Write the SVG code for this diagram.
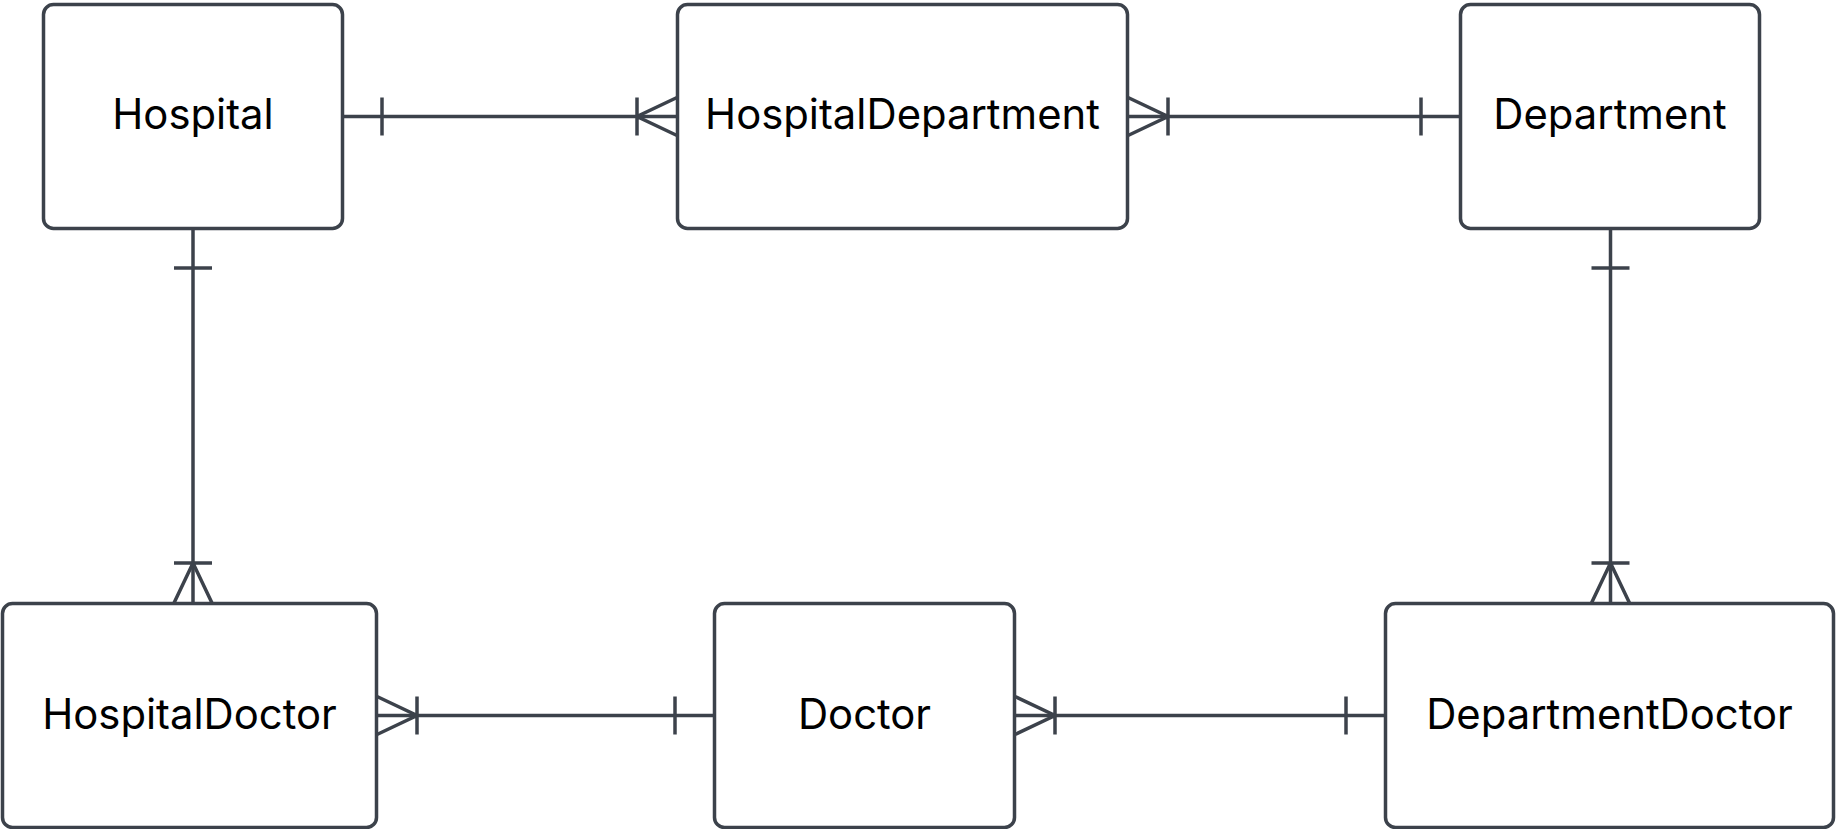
<svg xmlns="http://www.w3.org/2000/svg" width="1836" height="829" viewBox="0 0 1836 829">
  <style>
    .entity rect { fill: #ffffff; stroke: #3c424b; stroke-width: 3.5; }
    .entity text { font-family: Inter, "Noto Sans", "Liberation Sans", sans-serif; font-size: 41.8px; fill: #000000; text-anchor: middle; }
    .rel { fill: none; stroke: #3c424b; stroke-width: 3.5; marker-start: url(#one); marker-end: url(#many); }
    .rel.rev { marker-start: url(#manyStart); marker-end: url(#oneEnd); }
    .mk { fill: none; stroke: #3c424b; stroke-width: 3.5; }
  </style>
  <defs>
    <!-- exactly one: bar 39px back from the entity edge -->
    <marker id="one" markerUnits="userSpaceOnUse" refX="0" refY="0" markerWidth="1" markerHeight="1" orient="auto-start-reverse" overflow="visible">
      <path class="mk" d="M-39,-19 V19"/>
    </marker>
    <marker id="oneEnd" markerUnits="userSpaceOnUse" refX="0" refY="0" markerWidth="1" markerHeight="1" orient="auto" overflow="visible">
      <path class="mk" d="M-39,-19 V19"/>
    </marker>
    <!-- one or many: bar plus crow's foot opening onto the entity edge -->
    <marker id="many" markerUnits="userSpaceOnUse" refX="0" refY="0" markerWidth="1" markerHeight="1" orient="auto" overflow="visible">
      <path class="mk" d="M-40,-19 V19 M0,-19 L-40,0 L0,19"/>
    </marker>
    <marker id="manyStart" markerUnits="userSpaceOnUse" refX="0" refY="0" markerWidth="1" markerHeight="1" orient="auto-start-reverse" overflow="visible">
      <path class="mk" d="M-40,-19 V19 M0,-19 L-40,0 L0,19"/>
    </marker>
  </defs>

  <g id="connectors">
    <path class="rel" d="M343,116.5 H677"/>
    <path class="rel rev" d="M1128,116.5 H1460"/>
    <path class="rel" d="M193,229 V603"/>
    <path class="rel" d="M1610.5,229 V603"/>
    <path class="rel rev" d="M377,715.5 H714"/>
    <path class="rel rev" d="M1015,715.5 H1385"/>
  </g>

  <g id="Hospital" class="entity">
    <rect x="43.5" y="4.5" width="299" height="224" rx="10"/>
    <text x="193" y="129">Hospital</text>
  </g>
  <g id="HospitalDepartment" class="entity">
    <rect x="677.5" y="4.5" width="450" height="224" rx="10"/>
    <text x="902.5" y="129">HospitalDepartment</text>
  </g>
  <g id="Department" class="entity">
    <rect x="1460.5" y="4.5" width="299" height="224" rx="10"/>
    <text x="1610" y="129">Department</text>
  </g>
  <g id="HospitalDoctor" class="entity">
    <rect x="2.5" y="603.5" width="374" height="224" rx="10"/>
    <text x="189.5" y="728.5">HospitalDoctor</text>
  </g>
  <g id="Doctor" class="entity">
    <rect x="714.5" y="603.5" width="300" height="224" rx="10"/>
    <text x="864.5" y="728.5">Doctor</text>
  </g>
  <g id="DepartmentDoctor" class="entity">
    <rect x="1385.5" y="603.5" width="448" height="224" rx="10"/>
    <text x="1609.5" y="728.5">DepartmentDoctor</text>
  </g>
</svg>
